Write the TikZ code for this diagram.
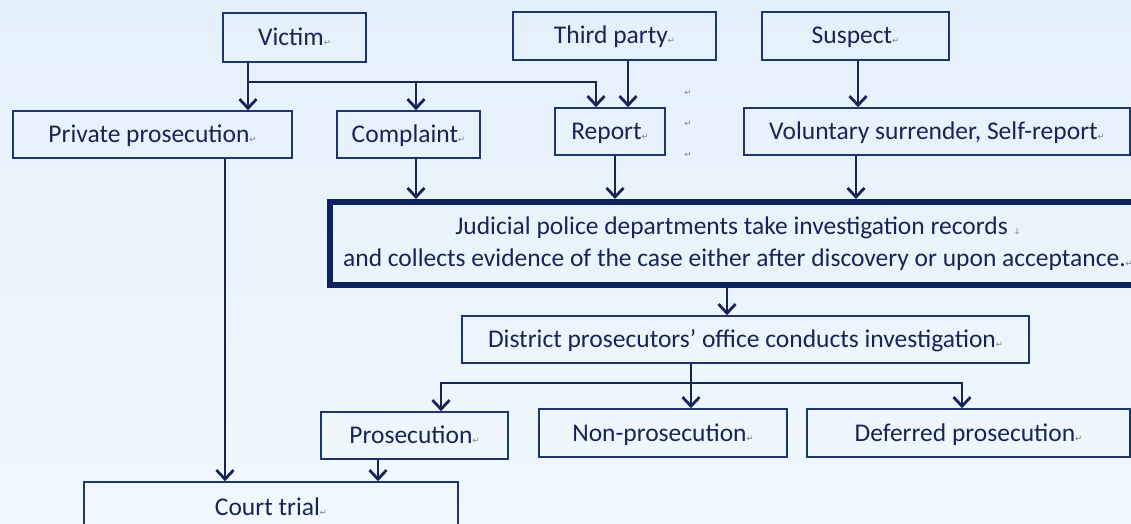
\documentclass[tikz,border=0pt]{standalone}
\usepackage{fontspec}
\setmainfont{Carlito}
\newfontfamily\markfont{DejaVu Sans}
\usetikzlibrary{arrows.meta,positioning}
\definecolor{navy}{RGB}{22,36,88}
\definecolor{boxline}{RGB}{30,54,112}
\definecolor{thickline}{RGB}{14,34,96}
\definecolor{bgtop}{RGB}{228,240,251}
\definecolor{bgbot}{RGB}{241,248,254}
\newcommand{\pmark}{{\markfont\fontsize{8.5}{8.5}\selectfont\textcolor{gray}{↵}}}
\newcommand{\lmark}{{\markfont\fontsize{8.5}{8.5}\selectfont\textcolor{gray}{↓}}}
\tikzset{
  box/.style={draw=boxline, line width=1.6pt, inner sep=0pt, text=navy, font=\fontsize{25.5}{32}\selectfont, align=center, text height=18pt, text depth=2pt},
  arr/.style={->, draw=navy, line width=2.8pt},
}

\begin{document}
\begin{tikzpicture}[x=1pt,y=-1pt,>={Straight Barb[length=9pt,width=17pt]}]
\useasboundingbox (0,0) rectangle (1131,524);
\clip (0,0) rectangle (1131,524);
\shade[top color=bgtop,bottom color=bgbot] (0,0) rectangle (1131,524);

\node[box, minimum width=143pt, minimum height=49pt] (Victim) at (294.5,37.5) {Victim\pmark};
\node[box, minimum width=203pt, minimum height=48pt] (Third) at (614.5,36) {Third party\pmark};
\node[box, minimum width=187pt, minimum height=48pt] (Suspect) at (855.5,36) {Suspect\pmark};
\node[box, minimum width=279pt, minimum height=47pt] (PrivPros) at (152.5,134.5) {Private prosecution\pmark};
\node[box, minimum width=143pt, minimum height=47pt] (Compl) at (408.5,134.5) {Complaint\pmark};
\node[box, minimum width=110pt, minimum height=47pt] (Report) at (610,131.5) {Report\pmark};
\node[box, minimum width=386pt, minimum height=47pt] (Surr) at (937,131.5) {Voluntary surrender, Self-report\pmark};
\foreach \y [count=\i] in {93,124,155}
  \node[inner sep=0pt] (Mark\i) at (688,\y) {\pmark};
\node[box, text height=, text depth=, draw=thickline, line width=6pt, minimum width=816pt, minimum height=83pt] (Police) at (738,243.5)
  {Judicial police departments take investigation records \lmark\\and collects evidence of the case either after discovery or upon acceptance.\pmark};
\node[box, minimum width=567pt, minimum height=47pt] (Office) at (745.5,339.5) {District prosecutors’ office conducts investigation\pmark};
\node[box, minimum width=187pt, minimum height=47pt] (Pros) at (414.5,435.5) {Prosecution\pmark};
\node[box, minimum width=248pt, minimum height=48pt] (NonPros) at (663,433) {Non-prosecution\pmark};
\node[box, minimum width=323pt, minimum height=48pt] (DefPros) at (968.5,433) {Deferred prosecution\pmark};
\node[box, minimum width=374pt, minimum height=50pt] (Court) at (271,507) {Court trial\pmark};

\coordinate (VicSplit) at (248,82);
\draw[arr] (VicSplit |- Victim.south) -- (VicSplit |- PrivPros.north);
\draw[arr] (VicSplit) -| ([xshift=-14pt]Report.north);
\draw[arr] ([xshift=7.5pt]Compl.north |- VicSplit) -- ([xshift=7.5pt]Compl.north);
\draw[arr] ([xshift=13.5pt]Third.south) -- ([xshift=13.5pt]Third.south |- Report.north);
\draw[arr] ([xshift=2.5pt]Suspect.south) -- ([xshift=2.5pt]Suspect.south |- Surr.north);
\draw[arr] ([xshift=7.5pt]Compl.south) -- ([xshift=7.5pt]Compl.south |- Police.north);
\draw[arr] ([xshift=5pt]Report.south) -- ([xshift=5pt]Report.south |- Police.north);
\draw[arr] ([xshift=0.5pt]Suspect.south |- Surr.south) -- ([xshift=0.5pt]Suspect.south |- Police.north);
\draw[arr] ([xshift=-18.5pt]Office.north |- Police.south) -- ([xshift=-18.5pt]Office.north);

\coordinate (OffSplit) at (691,383);
\draw[arr] (OffSplit |- Office.south) -- (OffSplit |- NonPros.north);
\draw[arr] (OffSplit) -| ([xshift=26.5pt]Pros.north);
\draw[arr] (OffSplit) -| ([xshift=-6.5pt]DefPros.north);
\draw[arr] ([xshift=72.5pt]PrivPros.south) -- ([xshift=72.5pt]PrivPros.south |- Court.north);
\draw[arr] ([xshift=-36.5pt]Pros.south) -- ([xshift=-36.5pt]Pros.south |- Court.north);
\end{tikzpicture}
\end{document}
